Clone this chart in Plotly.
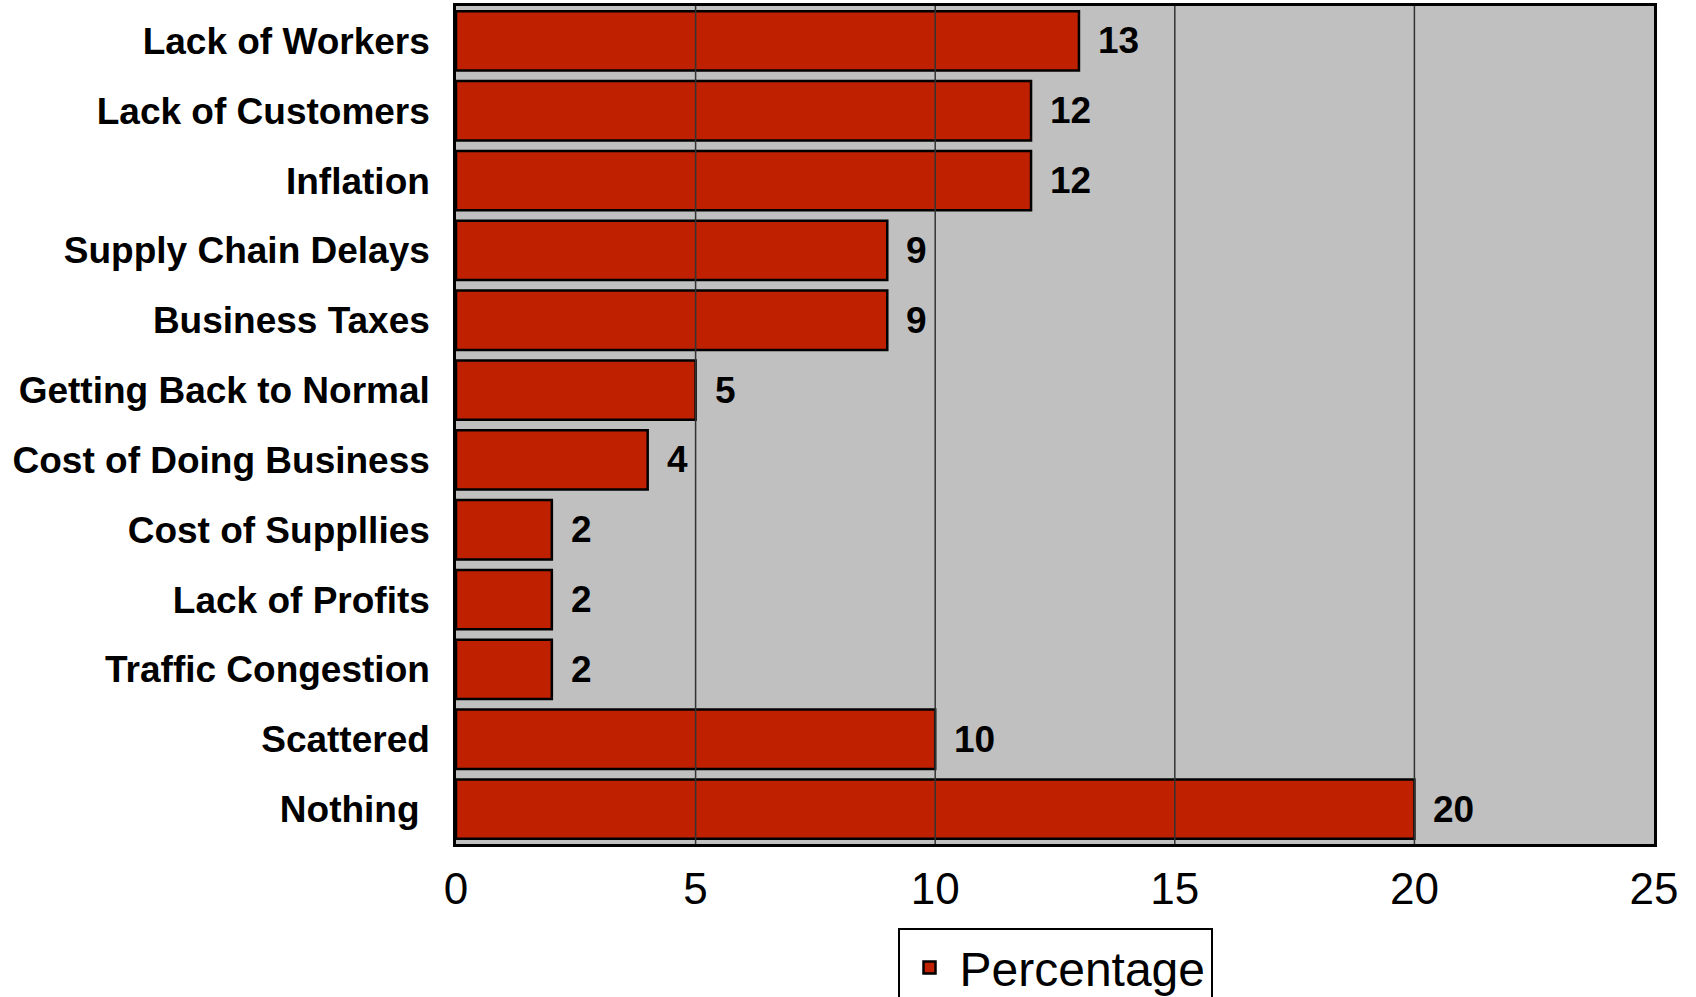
import plotly.graph_objects as go

categories = ["Lack of Workers", "Lack of Customers", "Inflation", "Supply Chain Delays",
              "Business Taxes", "Getting Back to Normal", "Cost of Doing Business",
              "Cost of Suppllies", "Lack of Profits", "Traffic Congestion", "Scattered",
              "Nothing\u00a0"]
values = [13, 12, 12, 9, 9, 5, 4, 2, 2, 2, 10, 20]
x_ticks = [0, 5, 10, 15, 20, 25]
series_name = "Percentage"

BAR = "#BE2000"
FONT = "Liberation Sans, Arial, Helvetica, sans-serif"

fig = go.Figure()
fig.add_trace(go.Bar(
    x=values, y=categories, orientation="h", name=series_name,
    marker=dict(color=BAR, line=dict(color="black", width=2.5)),
    showlegend=True,
))

# value labels
for c, v in zip(categories, values):
    fig.add_annotation(x=v, y=c, text=f"<b>{v}</b>", showarrow=False,
                       xanchor="left", xshift=17,
                       font=dict(size=37, color="black", family=FONT))

# gridlines drawn above bars (as in reference)
for t in x_ticks[1:-1]:
    fig.add_shape(type="line", xref="x", yref="paper", x0=t, x1=t, y0=0, y1=1,
                  line=dict(color="#333333", width=1.5), layer="above")

fig.update_layout(
    width=1696, height=997,
    margin=dict(l=456, r=42, t=6, b=153, autoexpand=False),
    paper_bgcolor="white", plot_bgcolor="#C0C0C0",
    bargap=0.15,
    font=dict(family=FONT, color="black"),
    legend=dict(orientation="h", x=0.5, xanchor="center", y=-0.100, yanchor="top",
                bgcolor="white", bordercolor="black", borderwidth=2, itemwidth=50,
                font=dict(size=48, family=FONT, color="black")),
    xaxis=dict(range=[0, 25], tickvals=x_ticks, ticktext=[str(t) for t in x_ticks],
               showgrid=False, zeroline=False, showline=True, mirror=True,
               linecolor="black", linewidth=2.5, ticks="", ticklabelstandoff=4,
               tickfont=dict(size=44, family=FONT, color="black")),
    yaxis=dict(autorange="reversed", showgrid=False, zeroline=False, showline=True,
               mirror=True, linecolor="black", linewidth=2.5, ticks="",
               ticklabelstandoff=16,
               tickfont=dict(size=37, family=FONT, color="black", weight="bold")),
)

fig.write_html("out.html", config={"displayModeBar": False},
               post_script="document.body.style.margin='0';")
